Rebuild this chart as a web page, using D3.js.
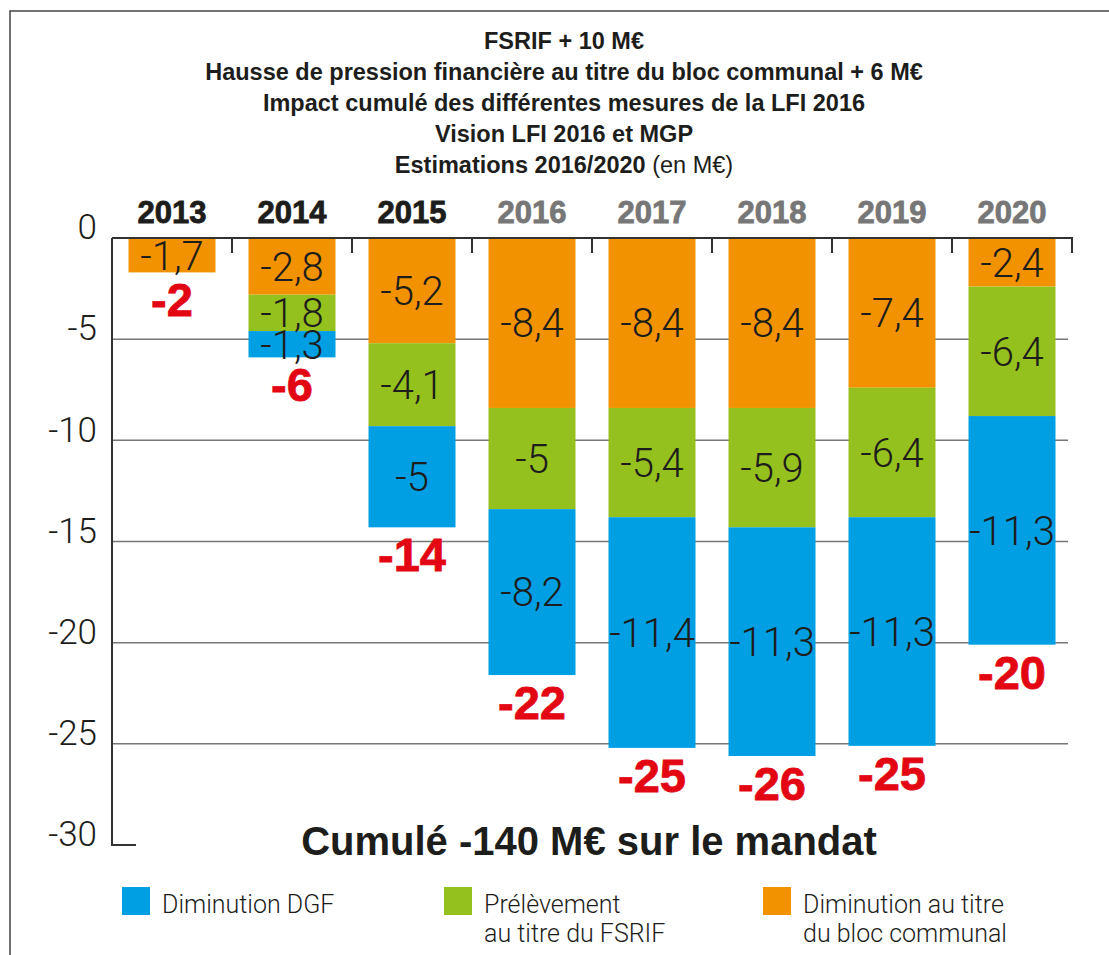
<!DOCTYPE html>
<html>
<head>
<meta charset="utf-8">
<script src="https://cdn.jsdelivr.net/npm/d3@7"></script>
<style>
  body { margin: 0; background: #fff; }
  svg { display: block; font-family: "Liberation Sans", Arial, sans-serif; }
</style>
</head>
<body>
<svg id="chart"></svg>
<script>
// data
const years = ["2013", "2014", "2015", "2016", "2017", "2018", "2019", "2020"];
const estimatedYears = ["2016", "2017", "2018", "2019", "2020"];
const bloc = [-1.7, -2.8, -5.2, -8.4, -8.4, -8.4, -7.4, -2.4];   // orange, top
const fsrif = [0, -1.8, -4.1, -5, -5.4, -5.9, -6.4, -6.4];       // green
const dgf = [0, -1.3, -5, -8.2, -11.4, -11.3, -11.3, -11.3];     // blue, bottom
const totals = [-2, -6, -14, -22, -25, -26, -25, -20];
const yTicks = [0, -5, -10, -15, -20, -25, -30];

const titleLines = [
  "FSRIF + 10 M€",
  "Hausse de pression financière au titre du bloc communal + 6 M€",
  "Impact cumulé des différentes mesures de la LFI 2016",
  "Vision LFI 2016 et MGP"
];
const series = [
  { key: "dgf", values: dgf, color: "#009fe3", label: ["Diminution DGF"] },
  { key: "fsrif", values: fsrif, color: "#95c11f", label: ["Prélèvement", "au titre du FSRIF"] },
  { key: "bloc", values: bloc, color: "#f39200", label: ["Diminution au titre", "du bloc communal"] }
];
const stackOrder = ["bloc", "fsrif", "dgf"];

const width = 1109;
const height = 955;
const ink = "#1d1d1b";
const lightFont = "Roboto, 'Liberation Sans', sans-serif";

const svg = d3.select("#chart").attr("width", width).attr("height", height);

// frame
svg.append("path")
  .attr("d", `M10,${height} V11 H${width}`)
  .attr("fill", "none")
  .attr("stroke", "#444")
  .attr("stroke-width", 1.5);

const x = d3.scaleBand().domain(years).range([112, 1072]).paddingInner(0.275).paddingOuter(0.1375);
const y = d3.scaleLinear().domain([0, -30]).range([238, 845]);

// title
const title = svg.append("g").attr("font-weight", "bold").attr("fill", ink).attr("font-size", 23.5).attr("text-anchor", "middle");
titleLines.forEach((t, i) => {
  title.append("text").attr("x", 564).attr("y", 49 + i * 31).text(t);
});
const last = title.append("text").attr("x", 564).attr("y", 49 + 4 * 31);
last.append("tspan").text("Estimations 2016/2020 ");
last.append("tspan").attr("font-weight", "normal").text("(en M€)");

// gridlines
svg.append("g")
  .selectAll("line")
  .data(yTicks.filter(d => d !== 0 && d !== -30))
  .join("line")
  .attr("x1", 112).attr("x2", 1068)
  .attr("y1", d => y(d)).attr("y2", d => y(d))
  .attr("stroke", "#777").attr("stroke-width", 1.5);

// stacked bars (negative values, first key sits at zero)
const rows = years.map((yr, i) => ({ year: yr, bloc: bloc[i], fsrif: fsrif[i], dgf: dgf[i] }));
const stacked = d3.stack().keys(stackOrder).offset(d3.stackOffsetDiverging)(rows);
const colorOf = Object.fromEntries(series.map(s => [s.key, s.color]));

const layers = svg.append("g")
  .selectAll("g")
  .data(stacked)
  .join("g")
  .attr("fill", d => colorOf[d.key]);

layers.selectAll("rect")
  .data(d => d.filter(p => p[0] !== p[1]))
  .join("rect")
  .attr("x", d => x(d.data.year))
  .attr("width", x.bandwidth())
  .attr("y", d => y(d[1]))
  .attr("height", d => y(d[0]) - y(d[1]));

const fmt = v => String(v).replace(".", ",");
const valueLabels = svg.append("g");
stacked.forEach(layer => {
  valueLabels.append("g")
    .selectAll("text")
    .data(layer.filter(p => p[0] !== p[1]))
    .join("text")
    .attr("x", d => x(d.data.year) + x.bandwidth() / 2)
    .attr("y", d => (y(d[0]) + y(d[1])) / 2)
    .attr("dy", "0.36em")
    .attr("text-anchor", "middle")
    .attr("fill", ink)
    .attr("font-size", 40)
    .attr("font-family", lightFont)
    .attr("font-weight", 300)
    .text(d => fmt(d.data[layer.key]));
});

// totals in red
svg.append("g")
  .selectAll("text")
  .data(years)
  .join("text")
  .attr("x", d => x(d) + x.bandwidth() / 2)
  .attr("y", (d, i) => y(bloc[i] + fsrif[i] + dgf[i]) + 44)
  .attr("text-anchor", "middle")
  .attr("fill", "#e30613")
  .attr("stroke", "#e30613")
  .attr("stroke-width", 0.8)
  .attr("font-weight", "bold")
  .attr("font-size", 47)
  .text((d, i) => totals[i]);

// year labels
svg.append("g")
  .selectAll("text")
  .data(years)
  .join("text")
  .attr("x", d => x(d) + x.bandwidth() / 2)
  .attr("y", 223)
  .attr("text-anchor", "middle")
  .attr("font-weight", "bold")
  .attr("font-size", 31)
  .attr("fill", d => estimatedYears.includes(d) ? "#777" : ink)
  .attr("stroke", d => estimatedYears.includes(d) ? "#777" : ink)
  .attr("stroke-width", 0.8)
  .text(d => d);

// top axis line with category ticks
const axisTop = svg.append("g").attr("stroke", "#333").attr("stroke-width", 2).attr("fill", "none");
axisTop.append("line").attr("x1", 112).attr("x2", 1073).attr("y1", y(0)).attr("y2", y(0));
axisTop.selectAll("line.tick")
  .data(years)
  .join("line")
  .attr("class", "tick")
  .attr("x1", d => x(d) - x.step() * 0.1375 + x.step())
  .attr("x2", d => x(d) - x.step() * 0.1375 + x.step())
  .attr("y1", y(0)).attr("y2", y(0) + 15);

// left axis
const yAxis = svg.append("g")
  .attr("transform", "translate(112,0)")
  .call(d3.axisLeft(y).tickValues(yTicks).tickSize(0).tickPadding(15).tickFormat(d => d));
yAxis.select(".domain").remove();
yAxis.selectAll("text")
  .attr("dy", "0.02em")
  .attr("font-size", 35)
  .attr("font-family", lightFont)
  .attr("font-weight", 300)
  .attr("fill", ink);
svg.append("path")
  .attr("d", `M112,${y(0)} V${y(-30)} H136`)
  .attr("fill", "none")
  .attr("stroke", "#333")
  .attr("stroke-width", 2);

// cumulative note
svg.append("text")
  .attr("x", 589).attr("y", 855)
  .attr("text-anchor", "middle")
  .attr("font-weight", "bold")
  .attr("font-size", 40)
  .attr("fill", ink)
  .text("Cumulé -140 M€ sur le mandat");

// legend
const legendX = [122, 444, 763];
const legend = svg.append("g")
  .selectAll("g")
  .data(series)
  .join("g")
  .attr("transform", (d, i) => `translate(${legendX[i]},887)`);
legend.append("rect").attr("width", 28).attr("height", 28).attr("fill", d => d.color);
legend.append("text")
  .attr("font-size", 25)
  .attr("font-family", lightFont)
  .attr("font-weight", 300)
  .attr("fill", ink)
  .selectAll("tspan")
  .data(d => d.label)
  .join("tspan")
  .attr("x", 40)
  .attr("y", (d, i) => 26 + i * 29)
  .text(d => d);
</script>
</body>
</html>
